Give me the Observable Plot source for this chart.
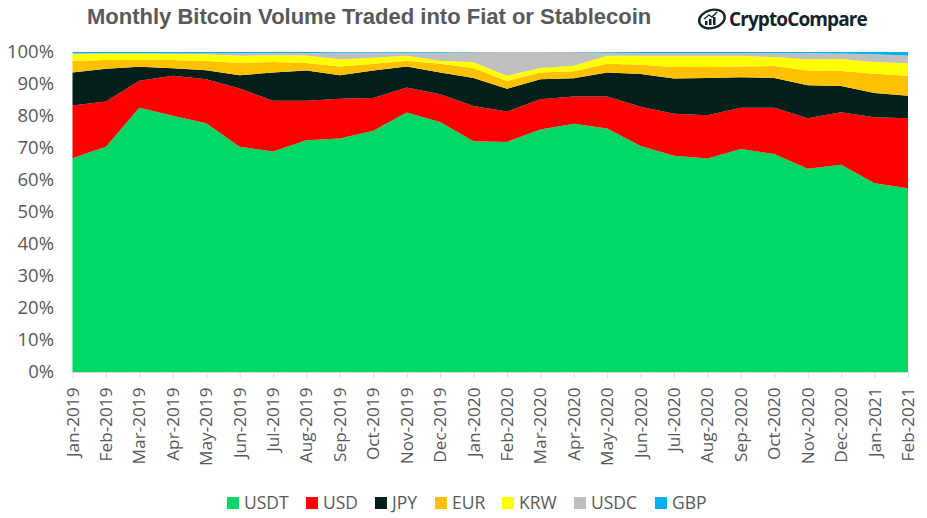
<!DOCTYPE html>
<html>
<head>
<meta charset="utf-8">
<script src="https://cdn.jsdelivr.net/npm/d3@7"></script>
<script src="https://cdn.jsdelivr.net/npm/@observablehq/plot@0.6"></script>
<style>
  html, body { margin: 0; padding: 0; background: #fff; width: 927px; height: 518px; overflow: hidden; }
  #wrap { position: relative; width: 927px; height: 518px; font-family: "Open Sans", sans-serif; }
  #chart { position: absolute; left: 0; top: 0; }
  #title { position: absolute; left: 87px; top: 4px; font: bold 22px "Liberation Sans", Arial, sans-serif; color: #595959; white-space: nowrap; }
  #logo { position: absolute; left: 697px; top: 6px; display: flex; align-items: center; gap: 2px; font: 700 19px "Open Sans", sans-serif; color: #10242b; letter-spacing: -0.9px; }
  #legend { position: absolute; left: 227px; top: 491px; font-size: 17.5px; color: #595959; line-height: 23px; }
  #legend .item { display: flex; align-items: center; position: absolute; white-space: nowrap; }
  #legend .sw { width: 12px; height: 12px; margin-right: 5px; display: inline-block; }
</style>
</head>
<body>
<div id="wrap">
  <div id="chart"></div>
  <div id="title">Monthly Bitcoin Volume Traded into Fiat or Stablecoin</div>
  <div id="logo">
    <svg width="30" height="24" viewBox="0 0 30 24">
      <ellipse cx="15" cy="12" rx="13" ry="9" transform="rotate(-15 15 12)" fill="none" stroke="#10242b" stroke-width="2.4"/>
      <path d="M8 18v-4h2.5v4zM12 18v-6h2.5v6zM16 18v-8h2.5v8z" fill="#10242b"/>
      <path d="M7 12l5-4 3 2 5-5" fill="none" stroke="#10242b" stroke-width="1.4"/>
    </svg>
    <span>CryptoCompare</span>
  </div>
  <div id="legend"></div>
</div>
<script>
const months = ["Jan-2019","Feb-2019","Mar-2019","Apr-2019","May-2019","Jun-2019","Jul-2019","Aug-2019","Sep-2019","Oct-2019","Nov-2019","Dec-2019","Jan-2020","Feb-2020","Mar-2020","Apr-2020","May-2020","Jun-2020","Jul-2020","Aug-2020","Sep-2020","Oct-2020","Nov-2020","Dec-2020","Jan-2021","Feb-2021"];
const USDT = [66.8,70.4,82.6,80.1,77.7,70.4,68.9,72.4,73,75.4,81.1,78.1,72.1,71.9,75.8,77.6,76.1,70.6,67.6,66.7,69.7,68.1,63.5,64.8,59,57.4];
const USD  = [16.5,14.1,8.4,12.5,13.8,18.2,15.9,12.4,12.4,10.2,7.8,8.7,11,9.5,9.4,8.5,10,12.3,13.1,13.5,12.9,14.5,15.8,16.4,20.6,21.9];
const JPY  = [10.3,10.3,4.4,2.3,2.8,4.1,8.8,9.4,7.3,8.6,6.6,6.8,8.8,7.1,6.3,5.7,7.5,10.2,11,11.7,9.5,9.3,10.3,8.2,7.6,7];
const EUR  = [3.6,2.7,2.2,2.6,2.9,3.9,3.3,2.4,2.8,2.1,1.8,2.7,3.1,2.4,2.1,2.2,2.7,2.9,3.6,3.4,3.4,3.7,4.6,4.7,6,6.3];
const KRW  = [2.1,2,1.9,1.9,2.1,2.2,2.1,2.3,2.2,1.9,1.5,1,1.8,1.7,1.4,1.7,2.5,2.8,3.5,3.5,3.3,2.8,3.5,3.7,3.7,3.9];
const USDC = [0.3,0.1,0.1,0.2,0.3,0.8,0.7,0.8,2.1,1.6,1,2.5,3.1,7.4,5,4.2,1,0.9,0.9,0.9,0.9,1.3,1.9,1.7,2.4,2.4];
const GBP  = [0.4,0.4,0.4,0.4,0.4,0.4,0.3,0.3,0.2,0.2,0.2,0.2,0.1,0,0,0.1,0.2,0.3,0.3,0.3,0.3,0.3,0.4,0.5,0.7,1.1];

const seriesNames = ["USDT","USD","JPY","EUR","KRW","USDC","GBP"];
const seriesValues = [USDT,USD,JPY,EUR,KRW,USDC,GBP];
const seriesColors = ["#00D764","#FF0000","#021F1A","#FFC000","#FFFF00","#BFBFBF","#00B0F0"];
const legendLeft = [0,79,148,208,275,347,428];
const yTicks = [0,10,20,30,40,50,60,70,80,90,100];

const rows = seriesNames.flatMap((name, i) =>
  months.map((month, j) => ({month, name, value: seriesValues[i][j]})));

const chart = Plot.plot({
  width: 927,
  height: 490,
  marginLeft: 72.5,
  marginRight: 19,
  marginTop: 52,
  marginBottom: 118,
  style: {background: "transparent", fontFamily: "'Open Sans', sans-serif"},
  x: {type: "point", domain: months, padding: 0, round: false},
  y: {domain: [0, 100]},
  color: {domain: seriesNames, range: seriesColors},
  marks: [
    Plot.areaY(rows, {x: "month", y: "value", z: "name", fill: "name", order: null}),
    Plot.ruleY([0], {stroke: "#D9D9D9", strokeWidth: 1}),
    Plot.axisY({ticks: yTicks, tickSize: 0, tickPadding: 19, tickFormat: d => d + "%", fontSize: 18.5, color: "#595959", label: null}),
    Plot.axisX({tickSize: 6, stroke: "#D9D9D9", tickRotate: -90, tickPadding: 9, fontSize: 17.2, color: "#595959", fill: "#595959", label: null})
  ]
});
document.getElementById("chart").appendChild(chart);

const legend = document.getElementById("legend");
seriesNames.forEach((name, i) => {
  const item = document.createElement("div");
  item.className = "item";
  item.style.left = legendLeft[i] + "px";
  const sw = document.createElement("span");
  sw.className = "sw";
  sw.style.background = seriesColors[i];
  item.appendChild(sw);
  item.appendChild(document.createTextNode(name));
  legend.appendChild(item);
});
</script>
</body>
</html>
